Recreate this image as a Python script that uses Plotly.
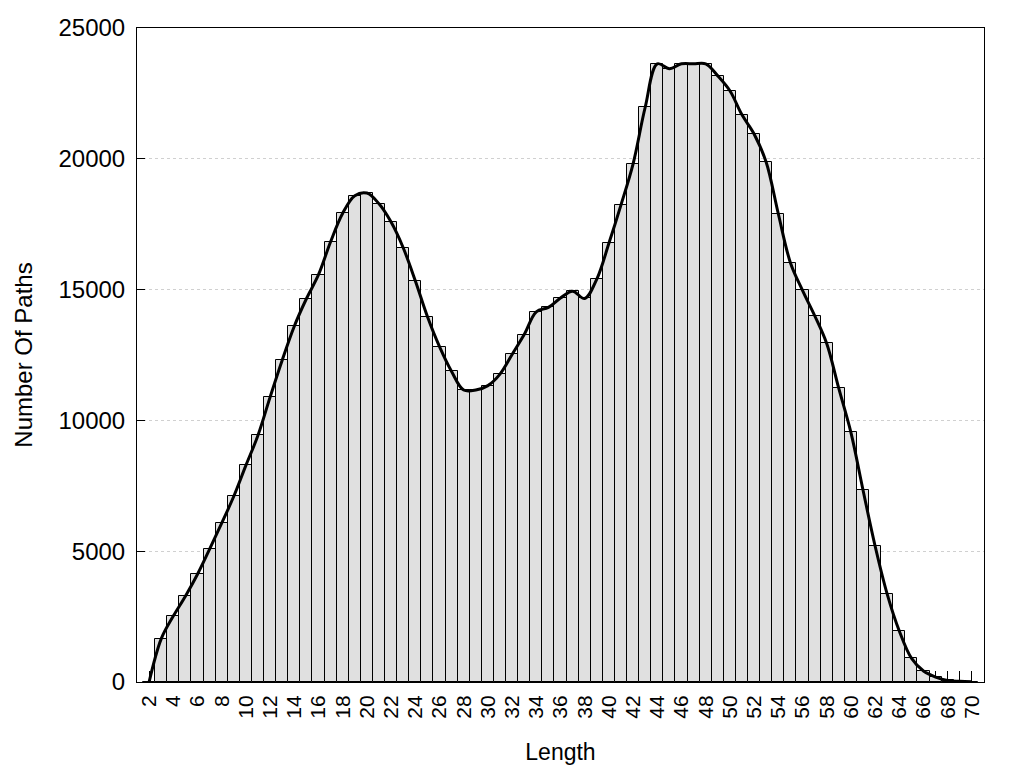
import plotly.graph_objects as go

lengths = list(range(2, 71))
paths = [
    0, 1650, 2520, 3280, 4120, 5080, 6070, 7100, 8280, 9430,      # 2-11
    10890, 12300, 13600, 14650, 15570, 16830, 17920, 18590, 18690, 18280,  # 12-21
    17580, 16600, 15340, 13970, 12820, 11870, 11160, 11160, 11330, 11770,  # 22-31
    12520, 13280, 14150, 14320, 14680, 14940, 14660, 15400, 16770, 18240,  # 32-41
    19810, 21970, 23630, 23440, 23630, 23630, 23630, 23170, 22600, 21680,  # 42-51
    20950, 19870, 17900, 16030, 14970, 14010, 12940, 11220, 9540, 7340,    # 52-61
    5200, 3360, 1950, 910, 420, 190, 60, 25, 10,                           # 62-70
]
x_tick_vals = lengths
x_tick_text = [str(v) if v % 2 == 0 else "" for v in lengths]
y_tick_vals = [0, 5000, 10000, 15000, 20000, 25000]
y_tick_text = ["0", "5000", "10000", "15000", "20000", "25000"]

FONT = "Liberation Sans, Arial, sans-serif"

fig = go.Figure()
fig.add_trace(go.Bar(
    x=lengths, y=paths, width=1,
    marker=dict(color="#e0e0e0", line=dict(color="black", width=1)),
    showlegend=False,
))
fig.add_trace(go.Scatter(
    x=lengths, y=paths, mode="lines",
    line=dict(color="black", width=3, shape="spline", smoothing=1),
    showlegend=False,
))

# page body has an 8px margin, so margins are shifted to keep the plot area in place
fig.update_layout(
    width=1024, height=768,
    margin=dict(l=129, r=48, t=20, b=94, autoexpand=False),
    paper_bgcolor="white", plot_bgcolor="white",
    font=dict(family=FONT, color="black"),
    bargap=0,
)
fig.update_xaxes(
    range=[1, 71], automargin=False,
    tickmode="array", tickvals=x_tick_vals, ticktext=x_tick_text,
    tickangle=-90, tickfont=dict(size=21, family=FONT, color="black"),
    ticks="inside", ticklen=11, tickcolor="black", tickwidth=1,
    ticklabelstandoff=4,
    showline=True, linecolor="black", linewidth=1, mirror=True,
    showgrid=False, zeroline=False, layer="below traces",
    title=dict(text="Length", font=dict(size=23, family=FONT, color="black"), standoff=26),
)
fig.update_yaxes(
    range=[0, 25000], automargin=False,
    tickmode="array", tickvals=y_tick_vals, ticktext=y_tick_text,
    tickfont=dict(size=24, family=FONT, color="black"),
    ticks="inside", ticklen=8, tickcolor="black", tickwidth=1,
    showline=True, linecolor="black", linewidth=1, mirror=True,
    showgrid=True, gridcolor="#d0d0d0", griddash="dot", gridwidth=1,
    zeroline=False, layer="below traces",
    ticklabelstandoff=6,
    title=dict(text="Number Of Paths", font=dict(size=24, family=FONT, color="black"), standoff=19),
)

fig.write_html("out.html")
